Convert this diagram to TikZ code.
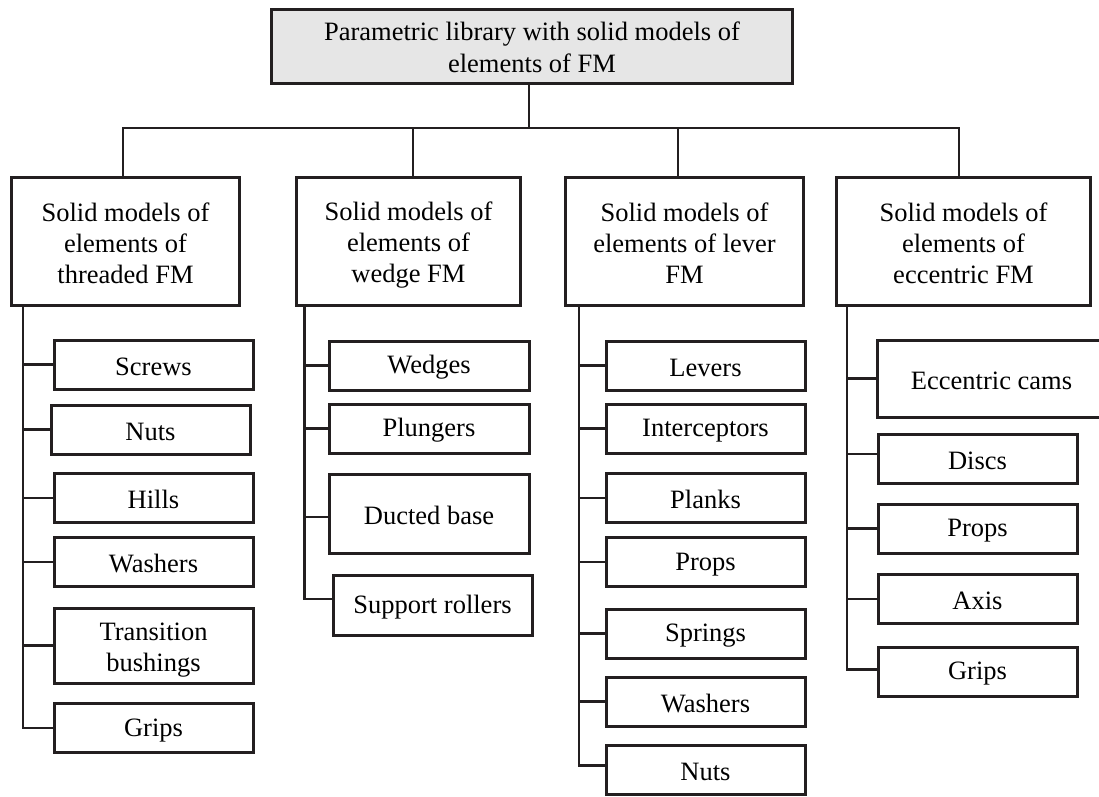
\documentclass[tikz,border=0pt]{standalone}
\usepackage{fontspec}
\setmainfont{Liberation Serif}
\definecolor{ink}{HTML}{231F20}
\definecolor{topfill}{HTML}{E6E6E6}
\newcommand\dstrut{\rule[-4.3pt]{0pt}{31pt}}
\newcommand\tstrut{\rule[-5pt]{0pt}{30pt}}
\tikzset{
  box/.style={draw=ink, line width=3pt, fill=white, inner sep=0pt, align=center,
    font=\fontsize{26.5}{31}\selectfont},
  topbox/.style={box, fill=topfill, minimum width=521pt, minimum height=74pt, font=\fontsize{26.5}{30}\selectfont},
  catbox/.style={box, minimum height=128pt},
  leaf/.style={box, minimum width=199pt, minimum height=49pt, execute at begin node={\rule{0pt}{22pt}}},
  link/.style={draw=ink, line width=2.8pt},
}
\begin{document}
\begin{tikzpicture}[x=1pt,y=-1pt]
\useasboundingbox (0,0) rectangle (1099,796);

% top
\node[topbox] (top) at (532,46.5) {Parametric library with solid models of\tstrut\\elements of FM\tstrut};

% categories
\node[catbox, minimum width=228pt] (c1) at (125.5,241.5) {Solid models of\dstrut\\elements of\dstrut\\threaded FM\dstrut};
\node[catbox, minimum width=224pt] (c2) at (408.5,241.5) {Solid models of\dstrut\\elements of\dstrut\\wedge FM\dstrut};
\node[catbox, minimum width=238pt] (c3) at (684.5,241.5) {Solid models of\dstrut\\elements of lever\dstrut\\FM\dstrut};
\node[catbox, minimum width=254pt] (c4) at (963.5,241.5) {Solid models of\dstrut\\elements of\dstrut\\eccentric FM\dstrut};

% column 1
\node[leaf] (a1) at (153.5,364.5) {Screws};
\node[leaf] (a2) at (150.5,429.5) {Nuts};
\node[leaf] (a3) at (153.5,498) {Hills};
\node[leaf] (a4) at (153.5,562) {Washers};
\node[leaf, minimum height=75pt] (a5) at (153.5,645.5) {Transition\dstrut\\bushings\dstrut};
\node[leaf] (a6) at (153.5,728) {Grips};

% column 2
\node[leaf, minimum width=200pt] (b1) at (429,365.5) {Wedges};
\node[leaf, minimum width=200pt] (b2) at (429,428.5) {Plungers};
\node[leaf, minimum width=200pt, minimum height=79pt] (b3) at (429,513.5) {Ducted base};
\node[leaf, minimum width=199pt, minimum height=60pt] (b4) at (432.5,605) {Support rollers};

% column 3
\node[leaf] (d1) at (705.5,365.5) {Levers};
\node[leaf] (d2) at (705.5,428.5) {Interceptors};
\node[leaf] (d3) at (705.5,498) {Planks};
\node[leaf] (d4) at (705.5,562) {Props};
\node[leaf] (d5) at (705.5,633.5) {Springs};
\node[leaf] (d6) at (705.5,701.5) {Washers};
\node[leaf] (d7) at (705.5,769.5) {Nuts};

% column 4
\node[leaf, minimum width=229pt, minimum height=77pt] (e1) at (991.5,378.5) {Eccentric cams};
\node[leaf] (e2) at (977.5,459) {Discs};
\node[leaf] (e3) at (977.5,528.5) {Props};
\node[leaf] (e4) at (977.5,599) {Axis};
\node[leaf] (e5) at (977.5,671.5) {Grips};

% bus
\coordinate (s1) at (123,128);
\coordinate (s2) at (413,128);
\coordinate (s3) at (678,128);
\coordinate (s4) at (959,128);
\coordinate (s0) at (529,128);
\draw[link] (top.south -| s0) -- (s0);
\draw[link] (s1 |- c1.north) -- (s1) -- (s4) -- (s4 |- c4.north);
\draw[link] (s2) -- (s2 |- c2.north);
\draw[link] (s3) -- (s3 |- c3.north);

% trunks
\coordinate (t1) at (23,307);
\coordinate (t2) at (304.5,307);
\coordinate (t3) at (579,307);
\coordinate (t4) at (847,307);

\draw[link] (t1) |- (a6.west);
\foreach \n in {a1,a2,a3,a4,a5} \draw[link] (t1 |- \n.west) -- (\n.west);

\draw[link] (t2) |- ([yshift=6pt]b4.west);
\foreach \n in {b1,b2} \draw[link] (t2 |- \n.west) -- (\n.west);
\draw[link] (t2 |- 0,517) -- (b3.west |- 0,517);

\draw[link] (t3) |- ([yshift=4pt]d7.west);
\foreach \n in {d1,d2,d3,d4,d5,d6} \draw[link] (t3 |- \n.west) -- (\n.west);

\draw[link] (t4) |- ([yshift=2pt]e5.west);
\draw[link] (t4 |- e1.west) -- (e1.west);
\draw[link] (t4 |- 0,454) -- (e2.west |- 0,454);
\foreach \n in {e3,e4} \draw[link] (t4 |- \n.west) -- (\n.west);
\end{tikzpicture}
\end{document}
